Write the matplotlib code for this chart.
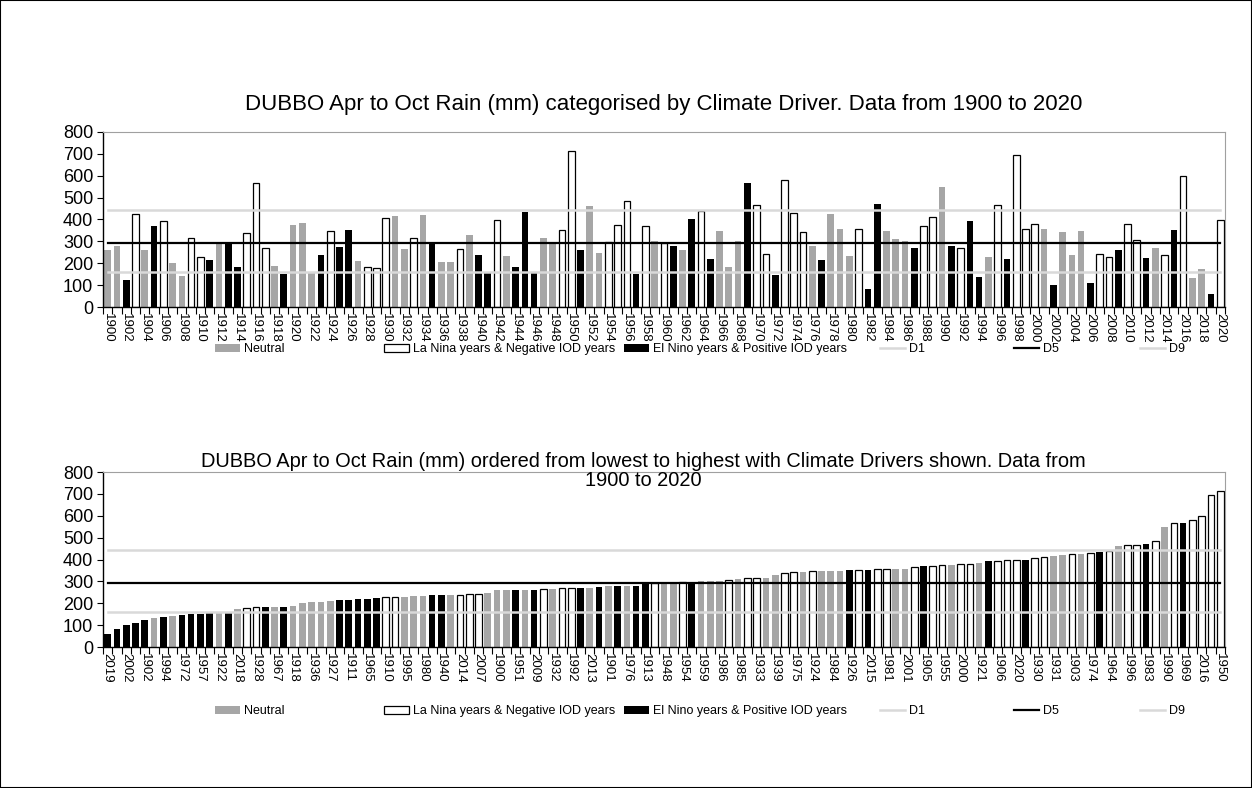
import matplotlib
matplotlib.use("Agg")
import matplotlib.pyplot as plt
import numpy as np
from matplotlib.patches import Rectangle

plt.rcParams['font.family'] = ['Liberation Sans', 'DejaVu Sans']

# ---- data ----
years = list(range(1900, 2021))

rain = [
    261, 281, 125, 425, 261, 369, 395, 199, 142, 315,   # 1900s
    227, 217, 296, 289, 182, 337, 566, 269, 187, 151,   # 1910s
    377, 385, 157, 239, 346, 276, 352, 209, 181, 180,   # 1920s
    408, 417, 266, 315, 422, 298, 207, 208, 264, 329,   # 1930s
    239, 156, 398, 235, 184, 436, 159, 317, 293, 352,   # 1940s
    714, 261, 462, 246, 297, 374, 485, 151, 372, 302,   # 1950s
    292, 281, 261, 400, 437, 219, 349, 183, 303, 569,   # 1960s
    466, 244, 147, 581, 429, 341, 281, 213, 426, 358,   # 1970s
    235, 357, 83, 473, 349, 312, 303, 270, 368, 410,    # 1980s
    550, 281, 269, 393, 136, 229, 465, 218, 693, 355,   # 1990s
    378, 358, 99, 343, 239, 349, 111, 244, 228, 261,    # 2000s
    379, 307, 224, 270, 239, 353, 601, 133, 175, 59,    # 2010s
    398,                                                # 2020
]

# N = neutral, L = La Nina / negative IOD, E = El Nino / positive IOD
driver = list(
    "NNELNELNNL"   # 1900s
    "LENEELLLNE"   # 1910s
    "NNNELEENLL"   # 1920s
    "LNNLNENNLN"   # 1930s
    "EELNEEENNL"   # 1940s
    "LENNLLLELN"   # 1950s
    "LENELENNNE"   # 1960s
    "LLELLLNENN"   # 1970s
    "NLEENNNELL"   # 1980s
    "NELEENLELL"   # 1990s
    "LNENNNELLE"   # 2000s
    "LLENLELNNE"   # 2010s
    "L"            # 2020
)

deciles = {'D1': 162, 'D5': 293, 'D9': 443}

labels = {
    'N': 'Neutral',
    'L': 'La Nina years & Negative IOD years',
    'E': 'El Nino years & Positive IOD years',
}
styles = {
    'N': dict(color='#a6a6a6', edgecolor='none'),
    'L': dict(color='white', edgecolor='black', linewidth=0.9),
    'E': dict(color='black', edgecolor='none'),
}
line_styles = {
    'D1': dict(color='#d9d9d9', lw=1.8),
    'D5': dict(color='black', lw=1.6),
    'D9': dict(color='#d9d9d9', lw=1.8),
}

fig = plt.figure(figsize=(12.52, 7.88), dpi=100)
fig.patches.append(Rectangle((0, 0), 1, 1, transform=fig.transFigure,
                             fill=False, ec='black', lw=1.5))


def draw_panel(ax, vals, drv, tick_years):
    x = np.arange(len(vals))
    vals = np.asarray(vals)
    drv = np.asarray(drv)
    handles = {}
    for k in ['N', 'L', 'E']:
        m = drv == k
        handles[k] = ax.bar(x[m], vals[m], width=0.72, label=labels[k],
                            zorder=2, **styles[k])
    for name, v in deciles.items():
        handles[name] = ax.plot([x[0], x[-1]], [v, v], label=name,
                                zorder=3, **line_styles[name])[0]

    ax.set_xlim(-0.5, len(vals) - 0.5)
    ax.set_ylim(0, 800)
    ax.set_yticks(range(0, 801, 100))
    ax.tick_params(axis='y', direction='out', length=4, width=0.8,
                   labelsize=13, pad=3)
    ax.set_xticks(x[::2])
    ax.set_xticklabels([str(y) for y in tick_years[::2]], rotation=270)
    ax.set_xticks(np.arange(-0.5, len(vals), 1), minor=True)
    ax.tick_params(axis='x', which='major', length=0, labelsize=9.5, pad=4)
    ax.tick_params(axis='x', which='minor', direction='out', length=5,
                   width=0.8)
    for s in ['top', 'right']:
        ax.spines[s].set_color('#a0a0a0')
    for s in ['left', 'bottom']:
        ax.spines[s].set_color('black')
        ax.spines[s].set_linewidth(1.0)
    return handles


def draw_legend(handles, y):
    spots = [('N', 0.1717), ('L', 0.3067), ('E', 0.4984),
             ('D1', 0.7029), ('D5', 0.8099), ('D9', 0.9105)]
    for key, xpos in spots:
        h = handles[key]
        fig.legend(handles=[h], labels=[h.get_label()], loc='center left',
                   bbox_to_anchor=(xpos, y), frameon=False, fontsize=9,
                   handlelength=2.0, handleheight=0.6, handletextpad=0.3,
                   borderpad=0, borderaxespad=0)


# top: chronological
ax1 = fig.add_axes([0.0823, 0.6104, 0.896, 0.2221])
h1 = draw_panel(ax1, rain, driver, years)
fig.text(0.530, 0.868,
         'DUBBO Apr to Oct Rain (mm) categorised by Climate Driver. '
         'Data from 1900 to 2020',
         ha='center', va='center', fontsize=16)
draw_legend(h1, 0.5570)

# bottom: sorted lowest to highest
order = np.argsort(rain, kind='stable')
rain_sorted = [rain[i] for i in order]
driver_sorted = [driver[i] for i in order]
years_sorted = [years[i] for i in order]

ax2 = fig.add_axes([0.0823, 0.1789, 0.896, 0.2221])
h2 = draw_panel(ax2, rain_sorted, driver_sorted, years_sorted)
fig.text(0.514, 0.402,
         'DUBBO Apr to Oct Rain (mm) ordered from lowest to highest with '
         'Climate Drivers shown. Data from\n1900 to 2020',
         ha='center', va='center', fontsize=14.4, linespacing=1.0)
draw_legend(h2, 0.0977)

fig.savefig('out.png', dpi=100)
